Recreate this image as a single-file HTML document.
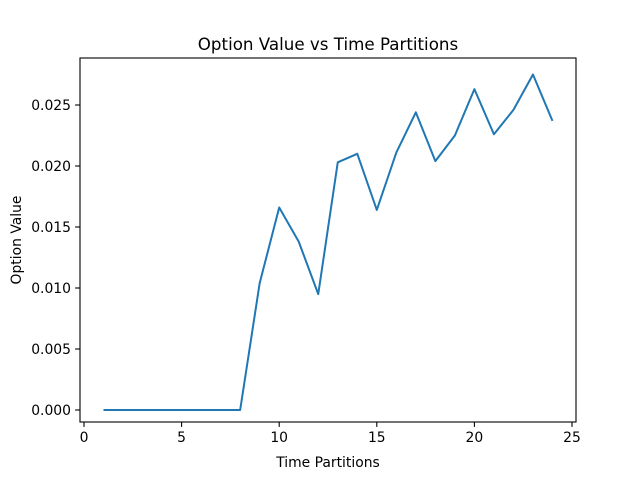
<!DOCTYPE html>
<html><head><meta charset="utf-8"><style>
body{margin:0;background:#fff;}
svg text{font-family:"DejaVu Sans","Liberation Sans",sans-serif;}
</style></head><body>
<svg id="chart" width="640" height="480" xmlns="http://www.w3.org/2000/svg">
<rect width="640" height="480" fill="#fff"/>
<text x="328" y="50" font-size="16.7" text-anchor="middle" fill="#000">Option Value vs Time Partitions</text>
<text x="328" y="467" font-size="13.9" text-anchor="middle" fill="#000">Time Partitions</text>
<text transform="translate(21,240) rotate(-90)" font-size="13.9" text-anchor="middle" fill="#000">Option Value</text>
<g id="xticks"></g>
<g id="yticks"></g>
<path id="line" fill="none" stroke="#1f77b4" stroke-width="2" stroke-linejoin="round"/>
<rect x="80" y="58" width="496" height="364" fill="none" stroke="#000" stroke-width="1.1"/>
</svg>
<script>
const partitions=[1,2,3,4,5,6,7,8,9,10,11,12,13,14,15,16,17,18,19,20,21,22,23,24];
const optionValues=[0,0,0,0,0,0,0,0,0.0104,0.0166,0.0138,0.0095,0.0203,0.0210,0.0164,0.0211,0.0244,0.0204,0.0225,0.0263,0.0226,0.0246,0.0275,0.0237];
const xTicks=[0,5,10,15,20,25];
const yTicks=[0,0.005,0.010,0.015,0.020,0.025];
const yTickLabels=["0.000","0.005","0.010","0.015","0.020","0.025"];
const L=80,R=576,T=58,B=422,NS="http://www.w3.org/2000/svg";
const X0=84,XS=(572-84)/25,Y0=410,YS=(410-105)/0.025;
const x=v=>X0+v*XS;
const y=v=>Y0-v*YS;
const xg=document.getElementById('xticks'),yg=document.getElementById('yticks');
xTicks.forEach(t=>{const px=x(t);
 const l=document.createElementNS(NS,'line');l.setAttribute('x1',px);l.setAttribute('x2',px);l.setAttribute('y1',B);l.setAttribute('y2',B+4.9);l.setAttribute('stroke','#000');l.setAttribute('stroke-width','1.1');
 
 xg.appendChild(l);
 const tx=document.createElementNS(NS,'text');tx.setAttribute('x',px);tx.setAttribute('y',B+20);tx.setAttribute('font-size','13.9');tx.setAttribute('text-anchor','middle');tx.textContent=t;
 
 xg.appendChild(tx);});
yTicks.forEach((t,i)=>{const py=y(t);
 const l=document.createElementNS(NS,'line');l.setAttribute('x1',L-4.9);l.setAttribute('x2',L);l.setAttribute('y1',py);l.setAttribute('y2',py);l.setAttribute('stroke','#000');l.setAttribute('stroke-width','1.1');
 
 yg.appendChild(l);
 const tx=document.createElementNS(NS,'text');tx.setAttribute('x',L-9);tx.setAttribute('y',py+5);tx.setAttribute('font-size','13.9');tx.setAttribute('text-anchor','end');tx.textContent=yTickLabels[i];
 
 yg.appendChild(tx);});
document.getElementById('line').setAttribute('d',partitions.map((p,i)=>(i?'L':'M')+x(p).toFixed(2)+','+y(optionValues[i]).toFixed(2)).join(' '));
</script>
</body></html>
